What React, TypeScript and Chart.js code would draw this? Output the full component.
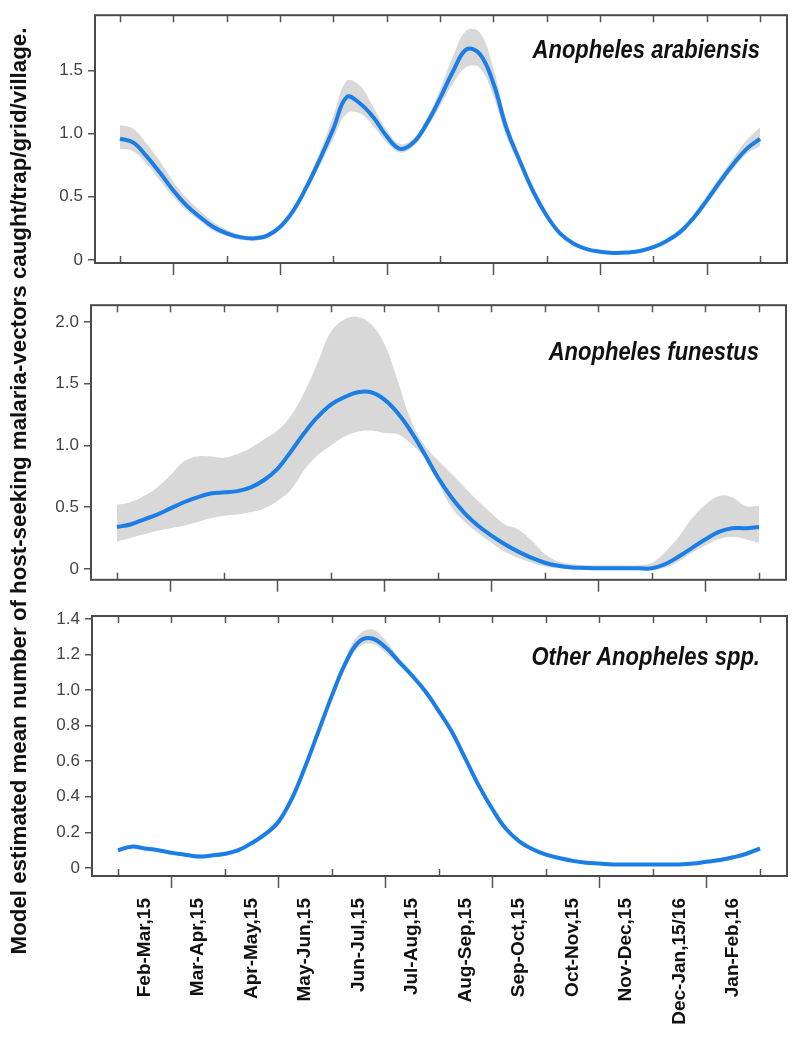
import React, { useEffect, useRef } from "react";
import { Chart, registerables } from "chart.js";
Chart.register(...registerables);

const FONT = '"Liberation Sans", Arial, Helvetica, sans-serif';

// x positions: month index (0 = start of Feb-Mar 2015 ... 12 = end of Jan-Feb 2016)
const xs = [0, 0.25, 0.5, 0.75, 1, 1.25, 1.5, 1.75, 2, 2.25, 2.5, 2.75, 3, 3.25, 3.5, 3.75, 4, 4.25, 4.5, 4.75, 5, 5.25, 5.5, 5.75, 6, 6.25, 6.5, 6.75, 7, 7.25, 7.5, 7.75, 8, 8.25, 8.5, 8.75, 9, 9.25, 9.5, 9.75, 10, 10.25, 10.5, 10.75, 11, 11.25, 11.5, 11.75, 12];

const periodTicks = [0, 1, 2, 3, 4, 5, 6, 7, 8, 9, 10, 11, 12];
const periodLabels = ["Feb-Mar,15", "Mar-Apr,15", "Apr-May,15", "May-Jun,15", "Jun-Jul,15", "Jul-Aug,15", "Aug-Sep,15", "Sep-Oct,15", "Oct-Nov,15", "Nov-Dec,15", "Dec-Jan,15/16", "Jan-Feb,16"];

const yTitle = "Model estimated mean number of host-seeking malaria-vectors caught/trap/grid/village.";

// Anopheles arabiensis
const arabMean = [0.96, 0.93, 0.82, 0.69, 0.55, 0.43, 0.34, 0.26, 0.21, 0.18, 0.17, 0.19, 0.26, 0.39, 0.58, 0.80, 1.04, 1.29, 1.24, 1.13, 0.98, 0.88, 0.93, 1.08, 1.28, 1.50, 1.67, 1.63, 1.40, 1.04, 0.78, 0.54, 0.35, 0.21, 0.13, 0.085, 0.065, 0.055, 0.058, 0.07, 0.10, 0.15, 0.22, 0.33, 0.47, 0.62, 0.76, 0.88, 0.96];
const arabUpper = [1.07, 1.04, 0.92, 0.78, 0.62, 0.49, 0.39, 0.30, 0.24, 0.20, 0.19, 0.21, 0.28, 0.42, 0.62, 0.86, 1.14, 1.42, 1.38, 1.21, 1.03, 0.92, 0.96, 1.12, 1.35, 1.62, 1.82, 1.80, 1.52, 1.10, 0.82, 0.57, 0.37, 0.23, 0.14, 0.095, 0.072, 0.062, 0.065, 0.08, 0.11, 0.165, 0.245, 0.36, 0.51, 0.66, 0.81, 0.95, 1.05];
const arabLower = [0.88, 0.86, 0.76, 0.63, 0.50, 0.39, 0.31, 0.23, 0.19, 0.16, 0.155, 0.17, 0.24, 0.37, 0.55, 0.75, 0.96, 1.16, 1.16, 1.06, 0.93, 0.85, 0.90, 1.04, 1.22, 1.40, 1.53, 1.52, 1.30, 0.97, 0.74, 0.51, 0.33, 0.20, 0.12, 0.08, 0.058, 0.048, 0.052, 0.064, 0.09, 0.14, 0.21, 0.31, 0.44, 0.58, 0.72, 0.84, 0.90];
const arabTicks = [0, 0.5, 1, 1.5];

// Anopheles funestus
const funMean = [0.34, 0.36, 0.40, 0.44, 0.49, 0.54, 0.58, 0.61, 0.62, 0.63, 0.66, 0.72, 0.81, 0.95, 1.10, 1.23, 1.33, 1.39, 1.43, 1.43, 1.37, 1.26, 1.11, 0.93, 0.74, 0.58, 0.45, 0.35, 0.27, 0.20, 0.14, 0.09, 0.05, 0.025, 0.012, 0.008, 0.005, 0.005, 0.005, 0.005, 0.005, 0.04, 0.10, 0.17, 0.24, 0.30, 0.33, 0.33, 0.34];
const funUpper = [0.52, 0.54, 0.59, 0.66, 0.76, 0.87, 0.91, 0.91, 0.90, 0.93, 0.98, 1.05, 1.12, 1.24, 1.43, 1.67, 1.92, 2.02, 2.04, 1.98, 1.82, 1.52, 1.20, 1.00, 0.88, 0.77, 0.66, 0.55, 0.45, 0.36, 0.32, 0.23, 0.12, 0.06, 0.04, 0.03, 0.03, 0.03, 0.03, 0.03, 0.05, 0.14, 0.26, 0.41, 0.52, 0.59, 0.58, 0.51, 0.51];
const funLower = [0.22, 0.25, 0.28, 0.31, 0.33, 0.35, 0.38, 0.41, 0.43, 0.44, 0.46, 0.49, 0.55, 0.64, 0.80, 0.92, 1.00, 1.07, 1.11, 1.12, 1.10, 1.09, 1.01, 0.90, 0.70, 0.50, 0.38, 0.29, 0.21, 0.14, 0.09, 0.05, 0.02, 0.005, 0, 0, 0, 0, 0, 0, 0, 0.01, 0.06, 0.13, 0.19, 0.24, 0.26, 0.24, 0.21];
const funTicks = [0, 0.5, 1, 1.5, 2];

// Other Anopheles spp.
const otherMean = [0.10, 0.12, 0.11, 0.10, 0.085, 0.075, 0.065, 0.07, 0.08, 0.10, 0.14, 0.19, 0.26, 0.39, 0.57, 0.77, 0.97, 1.15, 1.27, 1.29, 1.24, 1.16, 1.08, 0.99, 0.88, 0.76, 0.61, 0.46, 0.33, 0.22, 0.15, 0.105, 0.075, 0.056, 0.04, 0.03, 0.025, 0.02, 0.02, 0.02, 0.02, 0.02, 0.02, 0.025, 0.035, 0.045, 0.06, 0.08, 0.11];
const otherUpper = [0.11, 0.13, 0.12, 0.11, 0.095, 0.085, 0.075, 0.08, 0.09, 0.11, 0.15, 0.20, 0.28, 0.40, 0.58, 0.79, 0.99, 1.18, 1.31, 1.34, 1.28, 1.18, 1.09, 1.01, 0.89, 0.77, 0.62, 0.47, 0.34, 0.23, 0.16, 0.115, 0.085, 0.065, 0.05, 0.04, 0.033, 0.028, 0.028, 0.028, 0.028, 0.028, 0.028, 0.033, 0.043, 0.055, 0.07, 0.09, 0.12];
const otherLower = [0.09, 0.11, 0.10, 0.09, 0.075, 0.065, 0.055, 0.06, 0.07, 0.09, 0.13, 0.18, 0.24, 0.38, 0.56, 0.75, 0.95, 1.12, 1.24, 1.26, 1.21, 1.14, 1.07, 0.97, 0.87, 0.75, 0.60, 0.45, 0.32, 0.21, 0.14, 0.095, 0.065, 0.047, 0.032, 0.022, 0.017, 0.013, 0.013, 0.013, 0.013, 0.013, 0.013, 0.017, 0.027, 0.036, 0.05, 0.07, 0.10];
const otherTicks = [0, 0.2, 0.4, 0.6, 0.8, 1, 1.2, 1.4];

const LINE = "#1a7ee6";
const BAND = "#d8d8d8";
const AXIS = "#4a4a4a";

const pts = (ys: number[]) => xs.map((x, i) => ({ x, y: ys[i] }));

type PanelCfg = {
  name: string;
  top: number;
  height: number;
  pad: { top: number; right: number; bottom: number };
  yAxisWidth: number;
  xMin: number;
  xMax: number;
  yMin: number;
  yMax: number;
  yTicks: number[];
  mean: number[];
  upper: number[];
  lower: number[];
  labelOffset: number;
  showLabels: boolean;
};

const panels: PanelCfg[] = [
  { name: "Anopheles arabiensis", top: 0, height: 290, pad: { top: 14, right: 10, bottom: 27 }, yAxisWidth: 95, xMin: -0.469, xMax: 12.506, yMin: -0.025, yMax: 1.94, yTicks: arabTicks, mean: arabMean, upper: arabUpper, lower: arabLower, labelOffset: 43, showLabels: false },
  { name: "Anopheles funestus", top: 290, height: 305, pad: { top: 13, right: 11, bottom: 15 }, yAxisWidth: 91, xMin: -0.486, xMax: 12.505, yMin: -0.088, yMax: 2.135, yTicks: funTicks, mean: funMean, upper: funUpper, lower: funLower, labelOffset: 55, showLabels: false },
  { name: "Other Anopheles spp.", top: 595, height: 449, pad: { top: 21, right: 10, bottom: 0 }, yAxisWidth: 92, xMin: -0.486, xMax: 12.505, yMin: -0.045, yMax: 1.416, yTicks: otherTicks, mean: otherMean, upper: otherUpper, lower: otherLower, labelOffset: 49, showLabels: true },
];

const framePlugin = {
  id: "frame",
  afterDatasetsDraw(chart: any, _args: any, opts: any) {
    const { ctx, chartArea: a } = chart;
    const x = chart.scales.x;
    ctx.save();
    ctx.strokeStyle = "#555";
    ctx.lineWidth = 1.5;
    periodTicks.forEach((t, i) => {
      const px = Math.round(x.getPixelForValue(t)) + 0.5;
      ctx.beginPath();
      ctx.moveTo(px, a.top);
      ctx.lineTo(px, a.top + 7);
      if (i % 2 === 0) {
        ctx.moveTo(px, a.bottom);
        ctx.lineTo(px, a.bottom - 7);
      } else {
        ctx.moveTo(px, a.bottom);
        ctx.lineTo(px, a.bottom + 12);
      }
      ctx.stroke();
    });
    ctx.strokeStyle = AXIS;
    ctx.lineWidth = 2;
    ctx.strokeRect(a.left, a.top, a.right - a.left, a.bottom - a.top);
    // species name, slightly condensed look (taller glyphs)
    ctx.translate(x.getPixelForValue(12), a.top + opts.offset);
    ctx.scale(1, 1.2);
    ctx.font = `italic bold 22px ${FONT}`;
    ctx.fillStyle = "#111";
    ctx.textAlign = "right";
    ctx.textBaseline = "alphabetic";
    ctx.fillText(opts.label, 0, 0);
    ctx.restore();
  },
};

function Panel({ cfg }: { cfg: PanelCfg }) {
  const ref = useRef<HTMLCanvasElement>(null);
  useEffect(() => {
    if (!ref.current) return;
    const chart = new Chart(ref.current, {
      type: "line",
      data: {
        datasets: [
          { data: pts(cfg.mean), borderColor: LINE, borderWidth: 4, pointRadius: 0, fill: false, tension: 0.4 },
          { data: pts(cfg.upper), borderColor: "rgba(0,0,0,0)", borderWidth: 0, pointRadius: 0, backgroundColor: BAND, fill: 2, tension: 0.4 },
          { data: pts(cfg.lower), borderColor: "rgba(0,0,0,0)", borderWidth: 0, pointRadius: 0, fill: false, tension: 0.4 },
        ] as any,
      },
      options: {
        animation: false,
        responsive: false,
        devicePixelRatio: 1,
        layout: { padding: { top: cfg.pad.top, right: cfg.pad.right, bottom: cfg.pad.bottom, left: 0 } },
        plugins: {
          legend: { display: false },
          tooltip: { enabled: false },
          frame: { label: cfg.name, offset: cfg.labelOffset },
        } as any,
        scales: {
          x: {
            type: "linear",
            min: cfg.xMin,
            max: cfg.xMax,
            display: cfg.showLabels,
            position: "bottom",
            grid: { display: false, drawTicks: false, tickLength: 0 },
            border: { display: false },
            afterBuildTicks: (s: any) => {
              s.ticks = periodLabels.map((_, i) => ({ value: i + 0.5 }));
            },
            afterFit: (s: any) => {
              s.height = cfg.showLabels ? 168 : 0;
            },
            ticks: {
              autoSkip: false,
              minRotation: 90,
              maxRotation: 90,
              padding: 22,
              color: "#111",
              font: { family: FONT, size: 19, weight: "bold" },
              callback: (_v: any, i: number) => periodLabels[i],
            },
          },
          y: {
            type: "linear",
            min: cfg.yMin,
            max: cfg.yMax,
            afterBuildTicks: (s: any) => {
              s.ticks = cfg.yTicks.map((v) => ({ value: v }));
            },
            afterFit: (s: any) => {
              s.width = cfg.yAxisWidth;
            },
            grid: { display: true, drawOnChartArea: false, drawTicks: true, tickLength: 7, color: "#555", lineWidth: 1.5 },
            border: { display: false },
            ticks: {
              padding: 5,
              color: "#444",
              font: { family: FONT, size: 17 },
              callback: (v: any) => (v === 0 ? "0" : Number(v).toFixed(1)),
            },
          },
        },
      } as any,
      plugins: [framePlugin],
    });
    return () => chart.destroy();
  }, [cfg]);
  return (
    <div style={{ position: "absolute", left: 0, top: cfg.top, width: 797, height: cfg.height }}>
      <canvas ref={ref} width={797} height={cfg.height} style={{ display: "block" }} />
    </div>
  );
}

export default function App() {
  return (
    <div style={{ position: "absolute", left: 0, top: 0, width: 797, height: 1044, background: "#fff", overflow: "hidden" }}>
      {panels.map((p) => (
        <Panel key={p.name} cfg={p} />
      ))}
      <div
        style={{
          position: "absolute",
          left: 20 - 500,
          top: 491 - 14,
          width: 1000,
          height: 28,
          lineHeight: "28px",
          textAlign: "center",
          transform: "rotate(-90deg)",
          transformOrigin: "center center",
          font: `bold 22.3px ${FONT}`,
          whiteSpace: "nowrap",
          color: "#111",
        }}
      >
        {yTitle}
      </div>
    </div>
  );
}
